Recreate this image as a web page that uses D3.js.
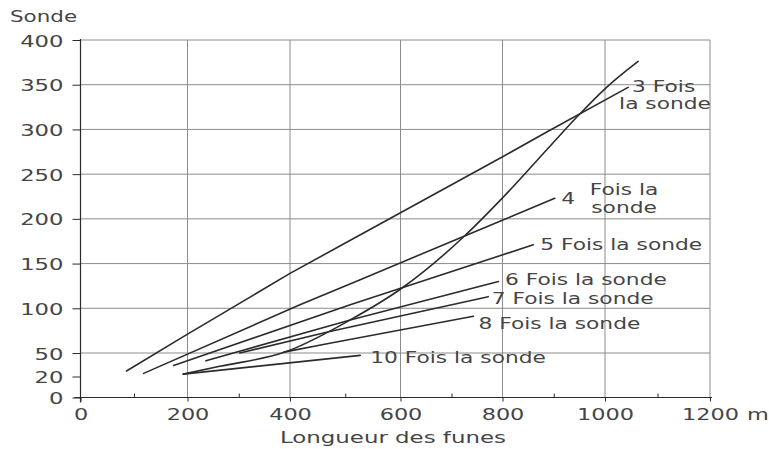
<!DOCTYPE html>
<html>
<head>
<meta charset="utf-8">
<script src="https://cdn.jsdelivr.net/npm/d3@7"></script>
<style>
  body { margin: 0; background: #fff; }
  svg text { font-family: "DejaVu Sans", sans-serif; fill: #454545; }
</style>
</head>
<body>
<svg id="chart" width="769" height="449"></svg>
<script>
// Axis ticks
const xTicks = [0, 200, 400, 600, 800, 1000, 1200];
const xMinorTicks = [100, 300, 500, 700, 900, 1100];
const yTicks = [0, 20, 50, 100, 150, 200, 250, 300, 350, 400];
const yGridValues = [50, 100, 150, 200, 250, 300, 350, 400];

// Warp length (m) vs depth, one curve per ratio
const fois3 = [[86, 27], [197, 70], [400, 139], [515, 178], [802, 270], [889, 298], [1044, 347]];
const fois4 = [[118, 24], [418, 104], [527, 132], [802, 199], [902, 223]];
const fois5 = [[174, 34], [509, 104], [860, 171]];
const fois6 = [[236, 40], [509, 87], [792, 130]];
const fois7 = [[302, 50], [472, 74], [772, 113]];
const fois8 = [[388, 51], [472, 61], [743, 91]];
const fois10 = [[192, 23], [527, 47]];
// Unlabelled limit curve
const courbe = [[192, 23], [263, 33], [390, 51], [509, 87], [599, 121], [724, 180], [801, 224], [889, 279], [947, 315], [1001, 346], [1063, 376]];

const labelTexts = [
  ["3 Fois", "la sonde"],
  ["4", "Fois la", "sonde"],
  ["5 Fois la sonde"],
  ["6 Fois la sonde"],
  ["7 Fois la sonde"],
  ["8 Fois la sonde"],
  ["10 Fois la sonde"]
];

const yTitle = "Sonde";
const xTitle = "Longueur des funes";
const xUnit = "m";

// ---- layout ----
const svg = d3.select("#chart");
const x = d3.scaleLinear().domain(xTicks).range([80.5, 187.5, 290, 400.5, 502.5, 605, 710]);
const y = d3.scaleLinear().domain([0, 20, 50, 400]).range([397.5, 376.5, 353, 40]);

const ink = "#2b2b2b";
const textInk = "#454545";
const gridInk = "#8c8c8c";
const fontSize = 16;
const stretch = 1.36;

// grid
const grid = svg.append("g").attr("stroke", gridInk).attr("stroke-width", 1);
grid.selectAll("line.v").data(xTicks.slice(1)).join("line")
  .attr("x1", d => x(d)).attr("x2", d => x(d))
  .attr("y1", y(400)).attr("y2", y(0));
grid.selectAll("line.h").data(yGridValues).join("line")
  .attr("x1", x(0)).attr("x2", x(1200))
  .attr("y1", d => y(d)).attr("y2", d => y(d));

// y axis
const yAxis = svg.append("g").attr("transform", `translate(${x(0)},0)`)
  .call(d3.axisLeft(y).tickValues(yTicks).tickSize(8).tickSizeOuter(0).tickFormat(d3.format("d")));
yAxis.select(".domain").attr("d", `M0,${y(400) - 1}V${y(0) + 5}`);
yAxis.selectAll("line").attr("stroke", ink);
yAxis.selectAll("path").attr("stroke", ink).attr("stroke-width", 1.2);
yAxis.selectAll("text")
  .attr("x", 0).attr("dy", null).attr("y", 6)
  .attr("font-size", fontSize)
  .attr("transform", `translate(-17,0) scale(1.42,1)`)
  .style("fill", textInk);

// x axis
const xAxis = svg.append("g").attr("transform", `translate(0,${y(0)})`)
  .call(d3.axisBottom(x).tickValues(xTicks).tickSize(4).tickSizeOuter(0).tickFormat(d3.format("d")));
xAxis.select(".domain").attr("d", `M${x(0) - 6},0H${x(1200) + 2}`);
xAxis.selectAll("line").attr("stroke", ink);
xAxis.selectAll("path").attr("stroke", ink).attr("stroke-width", 1.2);
xAxis.selectAll("text")
  .attr("y", 0).attr("dy", null)
  .attr("font-size", fontSize)
  .attr("transform", `translate(0,22.5) scale(1.4,1)`)
  .style("fill", textInk);

// minor ticks on the length axis
svg.append("g").attr("transform", `translate(0,${y(0)})`)
  .call(d3.axisBottom(x).tickValues(xMinorTicks).tickSize(-4).tickSizeOuter(0).tickFormat(""))
  .call(g => g.select(".domain").remove())
  .selectAll("line").attr("stroke", ink);

// unit and titles
svg.append("text").text(xUnit)
  .attr("font-size", fontSize)
  .attr("transform", `translate(${x(1200) + 37},${y(0) + 22.5}) scale(1.4,1)`);
svg.append("text").text(xTitle)
  .attr("font-size", fontSize)
  .attr("transform", `translate(280,${y(0) + 45.5}) scale(1.43,1)`);
svg.append("text").text(yTitle)
  .attr("font-size", fontSize)
  .attr("transform", `translate(10,22) scale(1.34,1)`);

// curves
const line = d3.line().x(d => x(d[0])).y(d => y(d[1]));
const smooth = d3.line().x(d => x(d[0])).y(d => y(d[1])).curve(d3.curveMonotoneX);
const series = [fois3, fois4, fois5, fois6, fois7, fois8, fois10];

svg.append("g").selectAll("path").data(series).join("path")
  .attr("d", line)
  .attr("fill", "none").attr("stroke", ink).attr("stroke-width", 1.6)
  .attr("stroke-linejoin", "round").attr("stroke-linecap", "round");

svg.append("path").datum(courbe)
  .attr("d", smooth)
  .attr("fill", "none").attr("stroke", ink).attr("stroke-width", 1.6)
  .attr("stroke-linecap", "round");

// labels, offset from the last point of each curve: [dx, dy] per text line;
// stacked labels use a slightly smaller size so their lines stay apart
const labelLayout = [
  { size: 15, k: 1.45, lines: [[4, 4.5], [-9, 22]] },
  { size: 15, k: 1.45, lines: [[6.5, 5.5], [35, -3], [36.5, 15]] },
  { size: fontSize, k: stretch, lines: [[7, 5.5]] },
  { size: fontSize, k: stretch, lines: [[6.5, 4]] },
  { size: fontSize, k: stretch, lines: [[3.5, 7]] },
  { size: fontSize, k: stretch, lines: [[5, 13]] },
  { size: fontSize, k: stretch, lines: [[10, 7.5]] }
];

const labelG = svg.append("g");
series.forEach((s, i) => {
  const last = s[s.length - 1];
  const px = x(last[0]), py = y(last[1]);
  const lay = labelLayout[i];
  labelTexts[i].forEach((t, j) => {
    const [dx, dy] = lay.lines[j];
    labelG.append("text").text(t)
      .attr("font-size", lay.size)
      .attr("transform", `translate(${px + dx},${py + dy}) scale(${lay.k},1)`);
  });
});
</script>
</body>
</html>
